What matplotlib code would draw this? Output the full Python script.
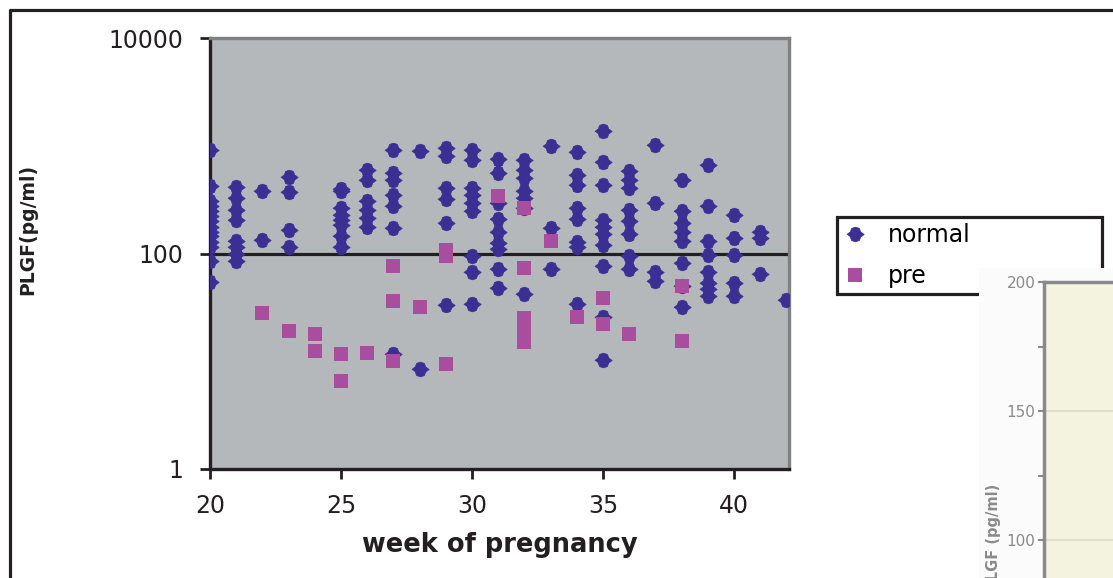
import numpy as np
import matplotlib
matplotlib.use("Agg")
import matplotlib.pyplot as plt
from matplotlib.patches import Rectangle
from matplotlib.lines import Line2D

# PLGF values (pg/ml) read per week of pregnancy
normal = {
    20: [908, 420, 305, 274, 246, 221, 199, 178, 160, 144, 129, 116, 86, 54],
    21: [411, 325, 251, 203, 132, 116, 100, 86],
    22: [377, 134],
    23: [509, 369, 164, 116],
    25: [394, 377, 262, 226, 203, 182, 144, 116],
    26: [591, 478, 305, 251, 212, 178],
    27: [908, 555, 478, 346, 274, 171, 11.7],
    28: [889, 8.5],
    29: [948, 798, 402, 318, 190, 33],
    30: [908, 733, 402, 346, 292, 246, 94, 68, 34],
    31: [748, 555, 292, 207, 160, 124, 111, 72, 48],
    32: [733, 591, 499, 377, 325, 265, 42],
    33: [995, 171, 72],
    34: [870, 532, 429, 262, 207, 129, 116, 34],
    35: [1365, 702, 429, 203, 178, 153, 119, 76, 26, 10.3],
    36: [579, 478, 402, 251, 199, 153, 94, 72],
    37: [1010, 292, 68, 56],
    38: [478, 246, 190, 160, 132, 82, 50, 32],
    39: [659, 274, 132, 96, 68, 53, 47, 40],
    40: [226, 138, 96, 53, 40],
    41: [160, 138, 65],
    42: [37],
}
pre = {
    22: [28],
    23: [19],
    24: [18, 12.5],
    25: [11.7, 6.6],
    26: [11.9],
    27: [77, 36.6, 10.1],
    28: [32],
    29: [107, 94, 9.5],
    31: [345],
    32: [262, 74, 25, 20, 15],
    33: [132],
    34: [26],
    35: [39, 22],
    36: [18],
    38: [50, 15.5],
}

normal_week = [w for w in normal for v in normal[w]]
normal_plgf = [v for w in normal for v in normal[w]]
pre_week = [w for w in pre for v in pre[w]]
pre_plgf = [v for w in pre for v in pre[w]]

xticks = [20, 25, 30, 35, 40]
yticks = [1, 100, 10000]
inset_ticks = [100, 150, 200]

W, H = 1113, 578
fig = plt.figure(figsize=(W / 100, H / 100), dpi=100)
fig.patch.set_facecolor("white")

# outer frame of the scanned page (only top and left edges visible)
fig.add_artist(Line2D([10 / W, 10 / W, 1.05], [-0.05, 1 - 10 / H, 1 - 10 / H],
                      transform=fig.transFigure, color="#231f20", lw=2.3))

# main chart
ax = fig.add_axes([210 / W, 1 - 469 / H, 579 / W, 431 / H])
ax.set_facecolor("#b5b8bb")
ax.set_yscale("log")
ax.set_xlim(20, 42.1)
ax.set_ylim(1, 10000)

ax.axhline(100, color="#231f20", lw=2.3, zorder=1.5)

blob = [(-1, 0), (-0.6, 0.3), (-0.45, 0.7), (0, 0.85), (0.45, 0.7), (0.6, 0.3),
        (1, 0), (0.6, -0.3), (0.45, -0.7), (0, -0.85), (-0.45, -0.7), (-0.6, -0.3)]
ax.plot(normal_week, normal_plgf, linestyle="none", marker=blob, markersize=12.5,
        color="#3b2f94", mec="#3b2f94", mew=0.5, label="normal", zorder=3)
ax.plot(pre_week, pre_plgf, linestyle="none", marker="s", markersize=9.5,
        color="#a94e9e", mew=0, label="pre", zorder=4)

for s in ["left", "bottom"]:
    ax.spines[s].set_color("#231f20")
    ax.spines[s].set_linewidth(2.4)
for s in ["top", "right"]:
    ax.spines[s].set_color("#808083")
    ax.spines[s].set_linewidth(2.4)

ax.set_xticks(xticks)
ax.set_xticklabels([str(t) for t in xticks])
ax.set_yticks(yticks)
ax.set_yticklabels([str(t) for t in yticks])
ax.yaxis.set_minor_locator(matplotlib.ticker.NullLocator())
ax.tick_params(axis="both", direction="out", length=7, width=2, color="#231f20",
               labelsize=17, labelcolor="#231f20")
ax.tick_params(axis="y", pad=12)
ax.tick_params(axis="x", pad=11)

ax.set_xlabel("week of pregnancy", fontsize=18.5, fontweight="bold", color="#231f20", labelpad=10)
ax.set_ylabel("PLGF(pg/ml)", fontsize=13.5, fontweight="bold", color="#231f20")
ax.yaxis.set_label_coords(-0.298, 0.555)

leg = ax.legend(loc="upper left", bbox_to_anchor=((837 - 210) / 579, (469 - 221) / 431, 265 / 579, 0.01),
                mode="expand", borderaxespad=0, fontsize=17, handlelength=1.0, handletextpad=0.9,
                borderpad=0.27, labelspacing=0.72, fancybox=False, framealpha=1)
leg.get_frame().set_edgecolor("#231f20")
leg.get_frame().set_linewidth(2.3)

# a second figure overlapping the right side of the scan
fig.add_artist(Rectangle((979 / W, -0.1), 0.2, (578 - 268) / H + 0.1, transform=fig.transFigure,
                         facecolor="#fbfbfb", edgecolor="none", zorder=0.5))

ax2 = fig.add_axes([1044 / W, 1 - 700 / H, 256 / W, 418 / H], zorder=1)
ax2.set_facecolor("#f3f3df")
ax2.set_ylim(38, 200)
ax2.set_xlim(0, 1)
ax2.set_yticks(inset_ticks)
ax2.set_yticklabels([str(t) for t in inset_ticks])
ax2.set_yticks([125, 175], minor=True)
ax2.set_xticks([])
ax2.grid(axis="y", which="major", color="#ddd8c8", lw=1.2)
ax2.tick_params(axis="y", which="both", direction="out", length=4, width=1.5, color="#8a8a8a",
                labelsize=11, labelcolor="#8a8a8a", pad=2)
for s in ["left", "top"]:
    ax2.spines[s].set_color("#8a8a8a")
    ax2.spines[s].set_linewidth(2.5)
ax2.spines["right"].set_visible(False)
ax2.spines["bottom"].set_visible(False)
ax2.set_ylabel("PLGF (pg/ml)", fontsize=10.5, fontweight="bold", color="#8a8a8a")
ax2.yaxis.set_label_coords(-0.168, 0.39)

plt.savefig("out.png", dpi=100)
plt.close()
